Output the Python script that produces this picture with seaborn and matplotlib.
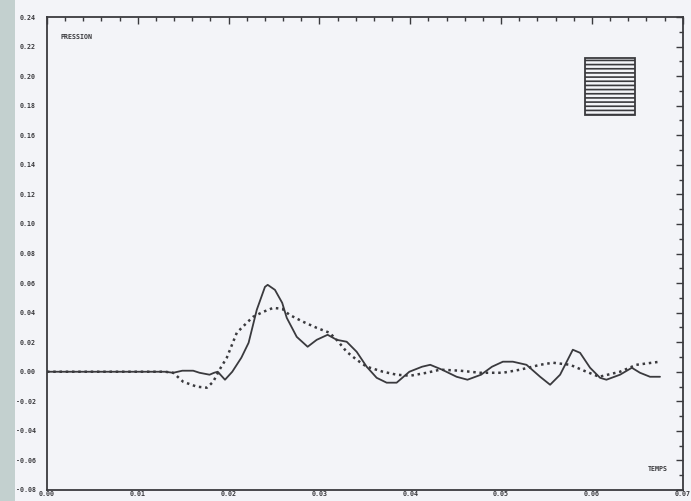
import numpy as np
import pandas as pd
import matplotlib
matplotlib.use("Agg")
import matplotlib.pyplot as plt
import matplotlib.ticker as mticker
from matplotlib.patches import Rectangle
import seaborn as sns

# pression mesuree (trait plein)
t_mesure = [0.0, 0.0130, 0.0139, 0.0149, 0.0161, 0.0168, 0.0179, 0.0184, 0.0188, 0.0196,
            0.0204, 0.0214, 0.0222, 0.0231, 0.0240, 0.0243, 0.0251, 0.0259, 0.0264, 0.0275,
            0.0287, 0.0297, 0.0309, 0.0319, 0.0330, 0.0341, 0.0352, 0.0363, 0.0374, 0.0385,
            0.0399, 0.0413, 0.0422, 0.0435, 0.0451, 0.0463, 0.0478, 0.0490, 0.0502, 0.0513,
            0.0528, 0.0543, 0.0554, 0.0565, 0.0579, 0.0587, 0.0598, 0.0609, 0.0616, 0.0631,
            0.0644, 0.0653, 0.0664, 0.0675]
p_mesure = [0.0, 0.0, -0.0007, 0.0007, 0.0007, -0.0007, -0.0020, -0.0007, 0.0000, -0.0054,
            0.0000, 0.0095, 0.0196, 0.0419, 0.0574, 0.0588, 0.0554, 0.0466, 0.0365, 0.0236,
            0.0169, 0.0216, 0.0250, 0.0216, 0.0203, 0.0135, 0.0034, -0.0041, -0.0074, -0.0074,
            0.0000, 0.0034, 0.0047, 0.0014, -0.0034, -0.0054, -0.0020, 0.0034, 0.0068, 0.0068,
            0.0047, -0.0034, -0.0088, -0.0020, 0.0149, 0.0128, 0.0027, -0.0041, -0.0054, -0.0020,
            0.0027, -0.0007, -0.0034, -0.0034]

# pression calculee (pointilles)
t_calcul = [0.0, 0.0130, 0.0139, 0.0150, 0.0165, 0.0176, 0.0183, 0.0190, 0.0198, 0.0209,
            0.0220, 0.0227, 0.0238, 0.0249, 0.0259, 0.0267, 0.0282, 0.0297, 0.0311, 0.0319,
            0.0330, 0.0341, 0.0352, 0.0370, 0.0385, 0.0400, 0.0418, 0.0433, 0.0455, 0.0477,
            0.0502, 0.0521, 0.0543, 0.0557, 0.0576, 0.0594, 0.0608, 0.0631, 0.0649, 0.0675]
p_calcul = [0.0, 0.0, -0.0007, -0.0068, -0.0101, -0.0108, -0.0068, 0.0014, 0.0095, 0.0264,
            0.0331, 0.0372, 0.0405, 0.0432, 0.0426, 0.0385, 0.0338, 0.0297, 0.0264, 0.0216,
            0.0135, 0.0081, 0.0034, 0.0000, -0.0020, -0.0027, -0.0007, 0.0014, 0.0007, -0.0007,
            -0.0007, 0.0014, 0.0047, 0.0061, 0.0047, 0.0000, -0.0034, 0.0000, 0.0047, 0.0068]

x_ticks = [0.00, 0.01, 0.02, 0.03, 0.04, 0.05, 0.06, 0.07]
y_ticks = [-0.08, -0.06, -0.04, -0.02, 0.00, 0.02, 0.04, 0.06, 0.08, 0.10, 0.12,
           0.14, 0.16, 0.18, 0.20, 0.22, 0.24]

df_mesure = pd.DataFrame({"temps": t_mesure, "pression": p_mesure})
df_calcul = pd.DataFrame({"temps": t_calcul, "pression": p_calcul})

sns.set_style("white")
plt.rcParams["font.family"] = ["DejaVu Sans Mono", "DejaVu Sans"]

ink = "#3a3a3e"
paper = "#f3f4f8"

fig = plt.figure(figsize=(6.91, 5.01), dpi=100, facecolor=paper)
ax = fig.add_axes([0.068, 0.022, 0.92, 0.944])
ax.set_facecolor(paper)

# bande grise du scan a gauche
fig.patches.append(Rectangle((0, 0), 0.022, 1, transform=fig.transFigure,
                             facecolor="#c3d0cf", edgecolor="none", zorder=0))

sns.lineplot(data=df_mesure, x="temps", y="pression", ax=ax, sort=False,
             color=ink, lw=1.3, estimator=None)
sns.lineplot(data=df_calcul, x="temps", y="pression", ax=ax, sort=False,
             color=ink, lw=1.8, estimator=None, dashes=False, linestyle=(0, (1, 1.5)))

ax.set_xlim(0, 0.07)
ax.set_ylim(-0.08, 0.24)
ax.set_xticks(x_ticks)
ax.set_yticks(y_ticks)
ax.xaxis.set_minor_locator(mticker.MultipleLocator(0.002))
ax.yaxis.set_minor_locator(mticker.MultipleLocator(0.01))
ax.xaxis.set_major_formatter(mticker.FormatStrFormatter("%.2f"))
ax.yaxis.set_major_formatter(mticker.FormatStrFormatter("%.2f"))
ax.tick_params(which="both", direction="in", top=True, right=True, color=ink,
               labelcolor=ink, labelsize=4.8, width=1.0)
ax.tick_params(which="major", length=5)
ax.tick_params(which="minor", length=3)
ax.tick_params(axis="x", pad=1)
ax.tick_params(axis="y", pad=8)
for lab in ax.get_xticklabels() + ax.get_yticklabels():
    lab.set_fontweight("bold")
for sp in ax.spines.values():
    sp.set_color(ink)
    sp.set_linewidth(1.3)

ax.set_xlabel("")
ax.set_ylabel("")
ax.text(0.022, 0.958, "PRESSION", transform=ax.transAxes, fontsize=4.8,
        fontweight="bold", color=ink, va="center")
ax.text(0.945, 0.045, "TEMPS", transform=ax.transAxes, fontsize=4.8,
        fontweight="bold", color=ink, va="center")

# cartouche hachure en haut a droite
plt.rcParams["hatch.color"] = ink
plt.rcParams["hatch.linewidth"] = 1.2
ax.add_patch(Rectangle((0.846, 0.793), 0.079, 0.12, transform=ax.transAxes,
                       facecolor=paper, edgecolor=ink, lw=1.3, hatch="----"))

fig.savefig("out.png", dpi=100, facecolor=paper)
